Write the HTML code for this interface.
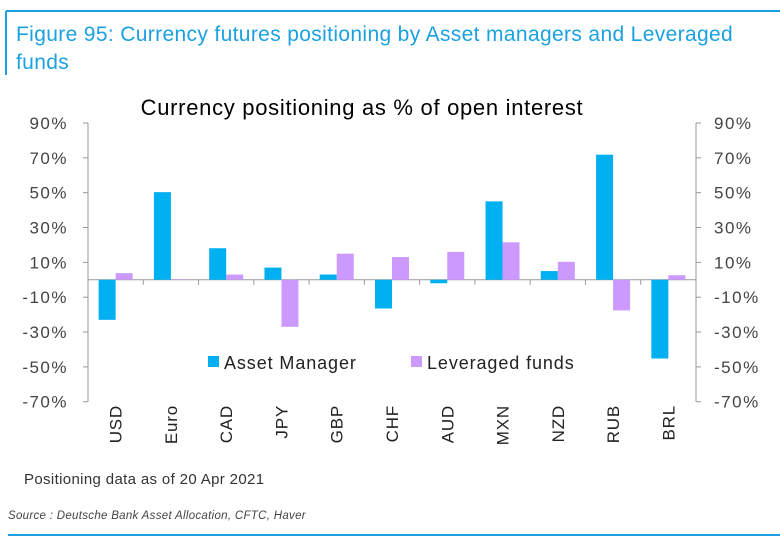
<!DOCTYPE html>
<html><head><meta charset="utf-8"><style>
body{margin:0;background:#fff;}
svg{display:block;font-family:"Liberation Sans",sans-serif;}
</style></head><body>
<svg id="c" width="780" height="542">
<line x1="6" y1="11" x2="780" y2="11" stroke="#1ba1e2" stroke-width="2"/>
<line x1="6" y1="11" x2="6" y2="75" stroke="#1ba1e2" stroke-width="2"/>
<text x="16" y="41" font-size="21" letter-spacing="0.35" fill="#1ba1e2">Figure 95: Currency futures positioning by Asset managers and Leveraged</text>
<text x="16" y="69" font-size="21" letter-spacing="0.35" fill="#1ba1e2">funds</text>
<text x="362" y="115" font-size="22" letter-spacing="0.7" fill="#000" text-anchor="middle">Currency positioning as % of open interest</text>
<g id="axes"></g>
<g id="bars"></g>
<rect x="208" y="356" width="11" height="11" fill="#00b0f0"/>
<text x="224" y="369" font-size="18" letter-spacing="0.9" fill="#222">Asset Manager</text>
<rect x="411" y="356" width="11" height="11" fill="#cc99ff"/>
<text x="427" y="369" font-size="18" letter-spacing="0.9" fill="#222">Leveraged funds</text>
<text x="24" y="484" font-size="15" letter-spacing="0.35" fill="#333">Positioning data as of 20 Apr 2021</text>
<text x="8" y="519" font-size="11.5" letter-spacing="0.3" font-style="italic" fill="#444">Source : Deutsche Bank Asset Allocation, CFTC, Haver</text>
<line x1="8" y1="535" x2="780" y2="535" stroke="#1ba1e2" stroke-width="2"/>
</svg>
<script>
const categories=["USD","Euro","CAD","JPY","GBP","CHF","AUD","MXN","NZD","RUB","BRL"];
const assetManager=[-23,50.3,18.1,7,3,-16.5,-2,45,5,71.8,-45.2];
const leveragedFunds=[3.8,0.3,3,-27,15,13,16,21.5,10.3,-17.6,2.6];
const ticks=[90,70,50,30,10,-10,-30,-50,-70];
const NS="http://www.w3.org/2000/svg";
const x0=88,x1=696,yTop=123,yBot=401.7,vmax=90,vmin=-70;
const bw=(x1-x0)/categories.length;
function y(v){return yTop+(vmax-v)/(vmax-vmin)*(yBot-yTop);}
function xc(i){return x0+bw*(i+0.5);}
function mk(tag,attrs,parent){const e=document.createElementNS(NS,tag);for(const k in attrs)e.setAttribute(k,attrs[k]);parent.appendChild(e);return e;}
const ax=document.getElementById('axes'),bg=document.getElementById('bars');
let l=mk('line',{x1:x0,y1:yTop,x2:x0,y2:yBot,stroke:'#999','stroke-width':1},ax);


l=mk('line',{x1:x1,y1:yTop,x2:x1,y2:yBot,stroke:'#999','stroke-width':1},ax);


ticks.forEach(t=>{
 const yy=y(t);
 mk('line',{x1:x0-5,y1:yy,x2:x0,y2:yy,stroke:'#999'},ax);
 mk('line',{x1:x1,y1:yy,x2:x1+5,y2:yy,stroke:'#999'},ax);
 let a=mk('text',{x:68,y:yy+6,'font-size':17,'letter-spacing':1.5,fill:'#444','text-anchor':'end'},ax);a.textContent=t+'%';
 
 
 let b=mk('text',{x:714,y:yy+6,'font-size':17,'letter-spacing':1.5,fill:'#444'},ax);b.textContent=t+'%';
 
 
});
const z=y(0);
categories.forEach((c,i)=>{
 const cx=xc(i);
 const r1=mk('rect',{x:cx-17,y:Math.min(y(assetManager[i]),z),width:17,height:Math.abs(y(assetManager[i])-z),fill:'#00b0f0'},bg);
 
 
 const r2=mk('rect',{x:cx,y:Math.min(y(leveragedFunds[i]),z),width:17,height:Math.abs(y(leveragedFunds[i])-z),fill:'#cc99ff'},bg);
 
 
 if(i>0) mk('line',{x1:x0+bw*i,y1:z,x2:x0+bw*i,y2:z+5,stroke:'#999'},ax);
 const t=mk('text',{transform:`translate(${cx+6},405) rotate(-90)`,'font-size':17,'letter-spacing':0.8,fill:'#222','text-anchor':'end'},ax);
 t.textContent=c;
 
 
});
l=mk('line',{x1:x0,y1:z,x2:x1,y2:z,stroke:'#999','stroke-width':1},ax);


</script>
</body></html>
